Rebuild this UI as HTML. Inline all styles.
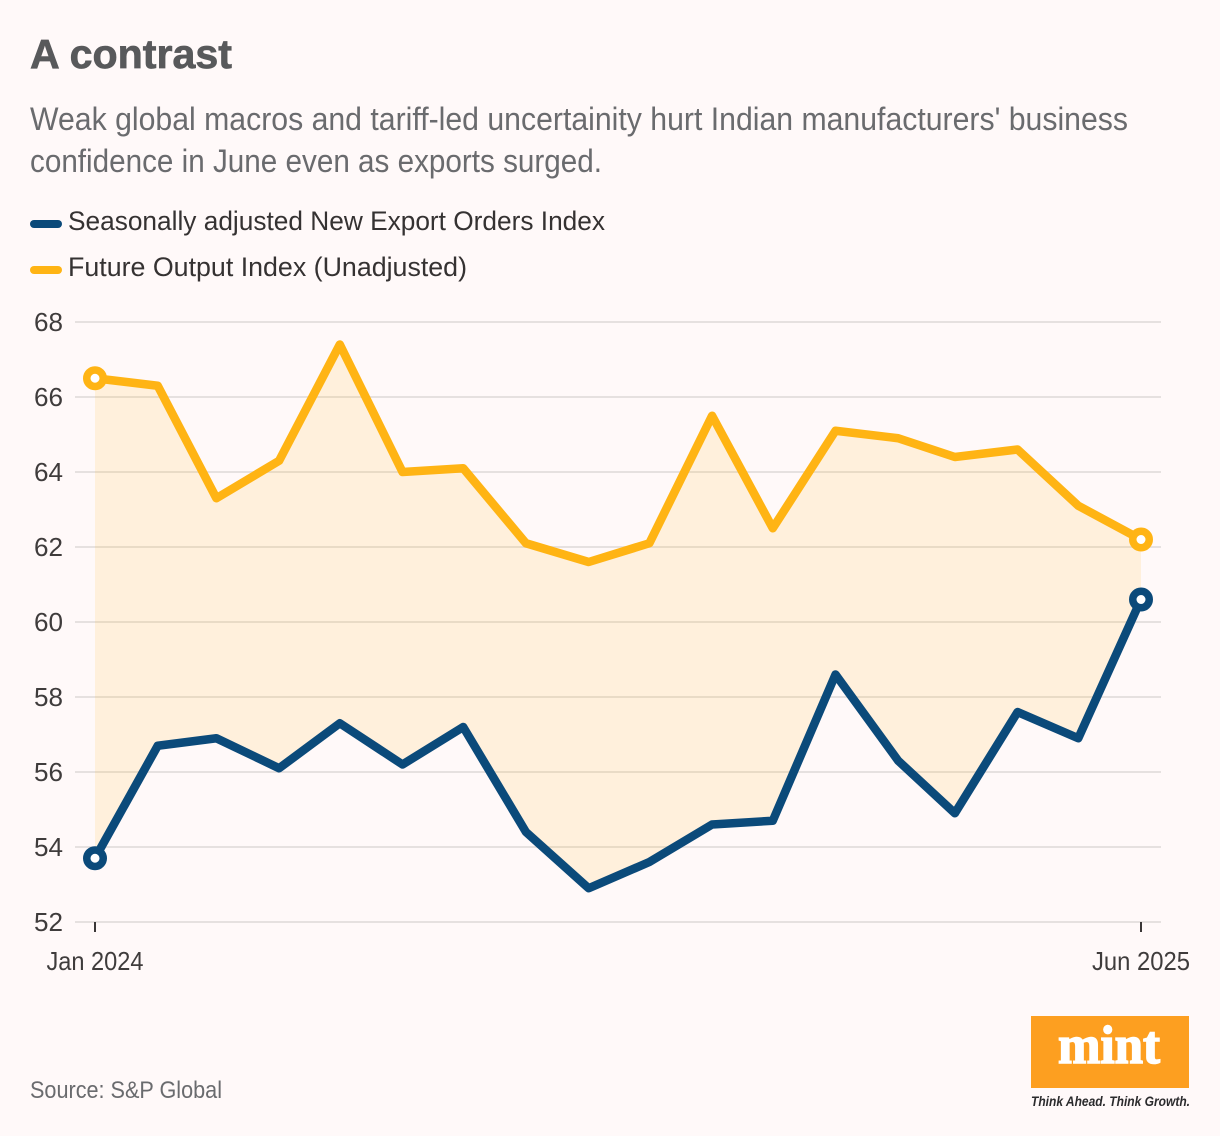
<!DOCTYPE html>
<html lang="en">
<head>
<meta charset="utf-8">
<title>A contrast</title>
<style>
html,body{margin:0;padding:0;background:#fff9f9;}
body{width:1220px;height:1136px;overflow:hidden;}
svg{display:block;}
text{font-family:"Liberation Sans",sans-serif;}
</style>
</head>
<body>
<svg id="chart" xmlns="http://www.w3.org/2000/svg" width="1220" height="1136" viewBox="0 0 1220 1136">
  <rect x="0" y="0" width="1220" height="1136" fill="#fff9f9"/>
  <text x="30" y="68" font-size="41" font-weight="700" fill="#58595b" stroke="#58595b" stroke-width="0.7" textLength="202" lengthAdjust="spacingAndGlyphs">A contrast</text>
  <text x="30" y="130" font-size="32" fill="#6a6b6e" textLength="1098" lengthAdjust="spacingAndGlyphs">Weak global macros and tariff-led uncertainity hurt Indian manufacturers' business</text>
  <text x="30" y="172" font-size="32" fill="#6a6b6e" textLength="572" lengthAdjust="spacingAndGlyphs">confidence in June even as exports surged.</text>

  <rect x="30" y="220" width="32" height="8" rx="4" fill="#0b4a7a"/>
  <text x="68" y="230" font-size="27" fill="#353232" textLength="537" lengthAdjust="spacingAndGlyphs">Seasonally adjusted New Export Orders Index</text>
  <rect x="30" y="266" width="32" height="8" rx="4" fill="#ffb414"/>
  <text x="68" y="276" font-size="27" fill="#353232" textLength="399" lengthAdjust="spacingAndGlyphs">Future Output Index (Unadjusted)</text>

  <g id="grid-layer"></g>
  <g id="y-tick-layer"></g>
  <g id="x-axis-layer"></g>
  <g id="area-layer"></g>
  <g id="line-layer"></g>

  <text x="30" y="1098" font-size="24" fill="#6a6b6e" textLength="192" lengthAdjust="spacingAndGlyphs">Source: S&amp;P Global</text>

  <g>
    <rect x="1031" y="1016" width="158" height="72" fill="#fd9f20"/>
    <text x="1058" y="1063" font-size="54" font-weight="700" fill="#ffffff" stroke="#ffffff" stroke-width="1.6" textLength="102" lengthAdjust="spacingAndGlyphs" style="font-family:'Liberation Serif',serif">mint</text>
    <text x="1031" y="1106" font-size="13.5" font-weight="700" font-style="italic" fill="#2b2b2d" textLength="159" lengthAdjust="spacingAndGlyphs">Think Ahead. Think Growth.</text>
  </g>
</svg>
<script>
var months = ['2024-01', '2024-02', '2024-03', '2024-04', '2024-05', '2024-06', '2024-07', '2024-08', '2024-09', '2024-10', '2024-11', '2024-12', '2025-01', '2025-02', '2025-03', '2025-04', '2025-05', '2025-06'];
var yTicks = [52, 54, 56, 58, 60, 62, 64, 66, 68];
var xTickLabels = ['Jan 2024', 'Jun 2025'];
var xTickMonths = ['2024-01', '2025-06'];
var exportOrders = [53.7, 56.7, 56.9, 56.1, 57.3, 56.2, 57.2, 54.4, 52.9, 53.6, 54.6, 54.7, 58.6, 56.3, 54.9, 57.6, 56.9, 60.6];
var futureOutput = [66.5, 66.3, 63.3, 64.3, 67.4, 64.0, 64.1, 62.1, 61.6, 62.1, 65.5, 62.5, 65.1, 64.9, 64.4, 64.6, 63.1, 62.2];

var NS = 'http://www.w3.org/2000/svg';
function monthTime(m) { return Date.parse(m + '-01T00:00:00Z'); }
function xScale(i) {
  var t0 = monthTime(months[0]);
  var t1 = monthTime(months[months.length - 1]);
  return 95 + ((monthTime(months[i]) - t0) / (t1 - t0)) * 1046;
}
function yScale(v) { return 922 - ((v - 52) / 16) * 600; }
function make(tag, attrs, parent) {
  var el = document.createElementNS(NS, tag);
  for (var k in attrs) { el.setAttribute(k, attrs[k]); }
  parent.appendChild(el);
  return el;
}
function pointsOf(values) {
  return values.map(function (v, i) { return xScale(i).toFixed(2) + ',' + yScale(v).toFixed(2); });
}

var gridLayer = document.getElementById('grid-layer');
var yLayer = document.getElementById('y-tick-layer');
yTicks.forEach(function (t) {
  var line = make('line', { x1: 75, x2: 1161, y1: yScale(t), y2: yScale(t), stroke: '#e6e1e0', 'stroke-width': 2 }, gridLayer);
  
  
  var label = make('text', { x: 63, y: yScale(t) + 9, 'font-size': 26, 'text-anchor': 'end', fill: '#3f3c3c', textLength: 29, lengthAdjust: 'spacingAndGlyphs' }, yLayer);
  label.textContent = t;
  
  
});

var xLayer = document.getElementById('x-axis-layer');
xTickMonths.forEach(function (m, n) {
  var idx = months.indexOf(m);
  var tick = make('line', { x1: xScale(idx), x2: xScale(idx), y1: 922, y2: 932, stroke: '#3a3737', 'stroke-width': 2 }, xLayer);
  
  
  var label = make('text', { x: xScale(idx), y: 970, 'font-size': 26, 'text-anchor': 'middle', fill: '#3f3c3c', textLength: n === 0 ? 97 : 98, lengthAdjust: 'spacingAndGlyphs' }, xLayer);
  label.textContent = xTickLabels[n];
  
  
});

var areaPoints = pointsOf(futureOutput).concat(pointsOf(exportOrders).reverse());
var area = make('polygon', { points: areaPoints.join(' '), fill: '#ffb414', 'fill-opacity': 0.12 }, document.getElementById('area-layer'));



var lineLayer = document.getElementById('line-layer');
function drawSeries(values, color, name) {
  var line = make('polyline', { points: pointsOf(values).join(' '), fill: 'none', stroke: color, 'stroke-width': 8.5, 'stroke-linejoin': 'round' }, lineLayer);
  
  
  [0, values.length - 1].forEach(function (i) {
    var dot = make('circle', { cx: xScale(i), cy: yScale(values[i]), r: 8.25, fill: '#ffffff', stroke: color, 'stroke-width': 7.5 }, lineLayer);
    
    
  });
}
drawSeries(futureOutput, '#ffb414', 'future-output');
drawSeries(exportOrders, '#0b4a7a', 'new-export-orders');
</script>
</body>
</html>
